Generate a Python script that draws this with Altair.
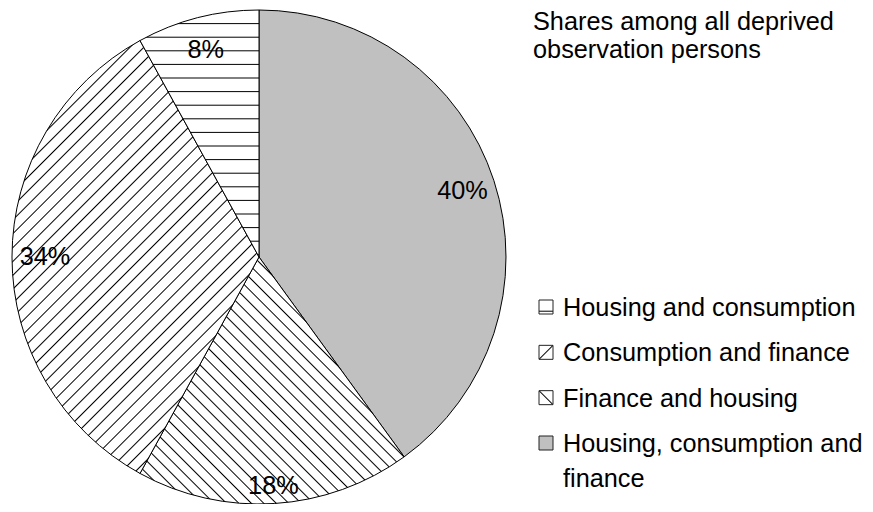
import math
import altair as alt
import pandas as pd

# ---- data ----
categories = ["Housing, consumption and finance", "Finance and housing",
              "Consumption and finance", "Housing and consumption"]
shares = [40, 18, 34, 8]
labels = ["40%", "18%", "34%", "8%"]
legend_order = ["Housing and consumption", "Consumption and finance",
                "Finance and housing", "Housing, consumption and finance"]
legend_text = ["Housing and consumption", "Consumption and finance",
               "Finance and housing", "Housing, consumption and\nfinance"]
title_lines = ["Shares among all deprived", "observation persons"]

# ---- layout / style ----
FONT = "Liberation Sans"
FS = 25.3
CX, CY, R = 251.0, 249.0, 247.0
GRAY = "#c0c0c0"


def arc_size(a0, a1):
    pts = [(CX, CY)]
    angs = [a0, a1] + [k * 90 for k in range(5) if a0 < k * 90 < a1]
    for a in angs:
        t = math.radians(a)
        pts.append((CX + R * math.sin(t), CY - R * math.cos(t)))
    xs = [p[0] for p in pts]
    ys = [p[1] for p in pts]
    return max(xs) - min(xs), max(ys) - min(ys)


def stripes(kind, w, h, spacing, lw=1.0, single=None):
    if kind == "h":
        x1, y1, x2, y2 = 0, 0, 0, 1
        D = h
    else:
        r = w / h
        b = (1 + r) / (1 + r * r)
        a = b * r
        D = (w + h) / math.sqrt(2)
        if kind == "f":
            x1, y1, x2, y2 = 0, 0, a, b
        else:
            x1, y1, x2, y2 = 0, 1, a, 1 - b
    f = lw / D
    centers = []
    if single is not None:
        centers = [single]
    else:
        i = 1
        while i * spacing / D + f < 1:
            centers.append(i * spacing / D)
            i += 1
    stops = [{"offset": 0, "color": "white"}]
    for c in centers:
        stops += [{"offset": c - f, "color": "white"},
                  {"offset": c, "color": "#000000"},
                  {"offset": c + f, "color": "white"}]
    stops.append({"offset": 1, "color": "white"})
    return {"gradient": "linear", "x1": x1, "y1": y1, "x2": x2, "y2": y2, "stops": stops}


kinds = {"Finance and housing": ("b", 8.8), "Consumption and finance": ("f", 9.8),
         "Housing and consumption": ("h", 13.6)}

# slice angles (clockwise from 12 o'clock)
total = sum(shares)
cum = 0
slice_fill = []
for cat, s in zip(categories, shares):
    a0 = cum / total * 360
    cum += s
    a1 = cum / total * 360
    if cat in kinds:
        w, h = arc_size(a0, a1)
        k, sp = kinds[cat]
        slice_fill.append({"test": f"datum.cat === '{cat}'", "value": stripes(k, w, h, sp, 1.0)})

SQ = 14
legend_fill = [
    {"test": "datum.cat === 'Housing and consumption'", "value": stripes("h", SQ, SQ, 0, 1.0, single=0.8)},
    {"test": "datum.cat === 'Consumption and finance'", "value": stripes("f", SQ, SQ, 0, 1.0, single=0.5)},
    {"test": "datum.cat === 'Finance and housing'", "value": stripes("b", SQ, SQ, 0, 1.0, single=0.5)},
]

pie_df = pd.DataFrame({"cat": categories, "share": shares, "label": labels,
                       "idx": list(range(len(categories)))})
leg_df = pd.DataFrame({"cat": legend_order, "txt": legend_text})
title_df = pd.DataFrame({"t": ["\n".join(title_lines)]})

base = alt.Chart(pie_df).encode(
    theta=alt.Theta("share:Q", stack=True),
    order=alt.Order("idx:Q"),
    x=alt.value(CX),
    y=alt.value(CY),
)

arcs = base.mark_arc(radius=R, stroke="black", strokeWidth=1).encode(
    fill={"condition": slice_fill, "value": GRAY}
)

pie_labels = base.mark_text(radius=214, font=FONT, fontSize=FS, color="black",
                            align="center", baseline="middle").encode(
    text=alt.condition("datum.label !== '18%'", "label:N", alt.value(""))
)
pie_label_bottom = base.mark_text(radius=229, font=FONT, fontSize=FS, color="black",
                                  align="center", baseline="middle").encode(
    text=alt.condition("datum.label === '18%'", "label:N", alt.value(""))
)

yleg = alt.Y("cat:N", scale=alt.Scale(domain=legend_order, range=[299, 435], padding=0),
             axis=None)

leg_sq = alt.Chart(leg_df).mark_square(size=SQ * SQ, stroke="#222222", strokeWidth=1,
                                       opacity=1).encode(
    x=alt.value(538), y=yleg,
    fill={"condition": legend_fill, "value": GRAY},
)

leg_txt = alt.Chart(leg_df).mark_text(font=FONT, fontSize=FS, color="black", align="left",
                                      baseline="alphabetic", dy=9, lineBreak="\n",
                                      lineHeight=35).encode(
    x=alt.value(555), y=yleg, text="txt:N"
)

title = alt.Chart(title_df).mark_text(font=FONT, fontSize=FS, color="black", align="left",
                                      baseline="top", lineBreak="\n",
                                      lineHeight=28).encode(
    x=alt.value(525), y=alt.value(2), text="t:N"
)

chart = alt.layer(arcs, pie_labels, pie_label_bottom, leg_sq, leg_txt, title).properties(
    width=857, height=496, padding=0,
    autosize=alt.AutoSizeParams(type="none"),
).configure_view(strokeWidth=0)

chart.save("out.html", embed_options={"renderer": "svg", "actions": False})
